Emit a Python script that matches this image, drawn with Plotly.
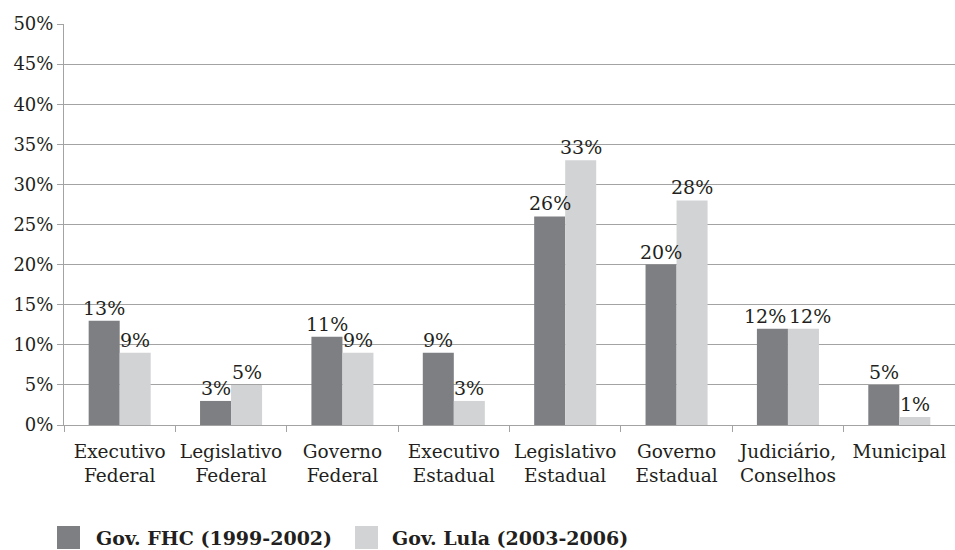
import plotly.graph_objects as go

categories = ["Executivo<br>Federal", "Legislativo<br>Federal", "Governo<br>Federal",
              "Executivo<br>Estadual", "Legislativo<br>Estadual", "Governo<br>Estadual",
              "Judiciário,<br>Conselhos", "Municipal"]
fhc = [13, 3, 11, 9, 26, 20, 12, 5]
lula = [9, 5, 9, 3, 33, 28, 12, 1]
series_names = ["Gov. FHC (1999-2002)", "Gov. Lula (2003-2006)"]
colors = ["#7e7f83", "#d2d3d5"]

W, H = 955, 550
L, R, T, B = 64, 0, 24, 125
FONT = "DejaVu Serif"
TXT = "#231f20"
GRID = "#a3a3a3"
BARGAP = 0.443
FS = 18

fig = go.Figure()
for name, vals, col in zip(series_names, [fhc, lula], colors):
    fig.add_trace(go.Bar(
        x=categories, y=vals, name=name, marker=dict(color=col, line=dict(width=0)),
        showlegend=False, hoverinfo="x+y",
    ))

# Value labels above each bar; labels at equal height in a group are nudged apart
pw, ph = W - L - R, H - T - B
bar_px = pw / len(categories) * (1 - BARGAP) / 2
for cat, a, b in zip(categories, fhc, lula):
    nudge = 7 if abs(a - b) < 2 else 0
    for v, side in ((a, -1), (b, 1)):
        fig.add_annotation(
            x=cat, y=v, xref="x", yref="y", text=f"{v}%", showarrow=False,
            xanchor="center", yanchor="bottom", yshift=0,
            xshift=side * (bar_px / 2 + nudge),
            font=dict(family=FONT, size=19, color=TXT),
        )

fig.update_layout(
    width=W, height=H, margin=dict(l=L, r=R, t=T, b=B),
    paper_bgcolor="white", plot_bgcolor="white",
    barmode="group", bargap=BARGAP, bargroupgap=0,
    font=dict(family=FONT, size=FS, color=TXT),
    xaxis=dict(type="category", tickson="boundaries", ticks="outside", ticklen=6,
               tickcolor=GRID, showline=True, linecolor=GRID, linewidth=1,
               showgrid=False, ticklabelstandoff=10,
               tickfont=dict(family=FONT, size=18.5, color=TXT)),
    yaxis=dict(range=[0, 50], dtick=5, ticksuffix="%", ticks="outside", ticklen=6,
               tickcolor=GRID, showline=True, linecolor=GRID, linewidth=1,
               showgrid=True, gridcolor=GRID, gridwidth=1, zeroline=False,
               tickfont=dict(family=FONT, size=FS, color=TXT)),
)

# Legend drawn as squares and bold labels below the plot area
def px(x):
    return (x - L) / pw
def py(y):
    return (H - B - y) / ph

legend_items = [(57, 94), (355, 390)]
for (sx, tx), name, col in zip(legend_items, series_names, colors):
    fig.add_shape(type="rect", xref="paper", yref="paper",
                  x0=px(sx), x1=px(sx + 23), y0=py(526), y1=py(549),
                  fillcolor=col, line=dict(width=0))
    fig.add_annotation(xref="paper", yref="paper", x=px(tx), y=py(538),
                       xanchor="left", yanchor="middle", showarrow=False,
                       text=f"<b>{name}</b>", font=dict(family=FONT, size=19, color=TXT))

fig.write_html("out.html")
